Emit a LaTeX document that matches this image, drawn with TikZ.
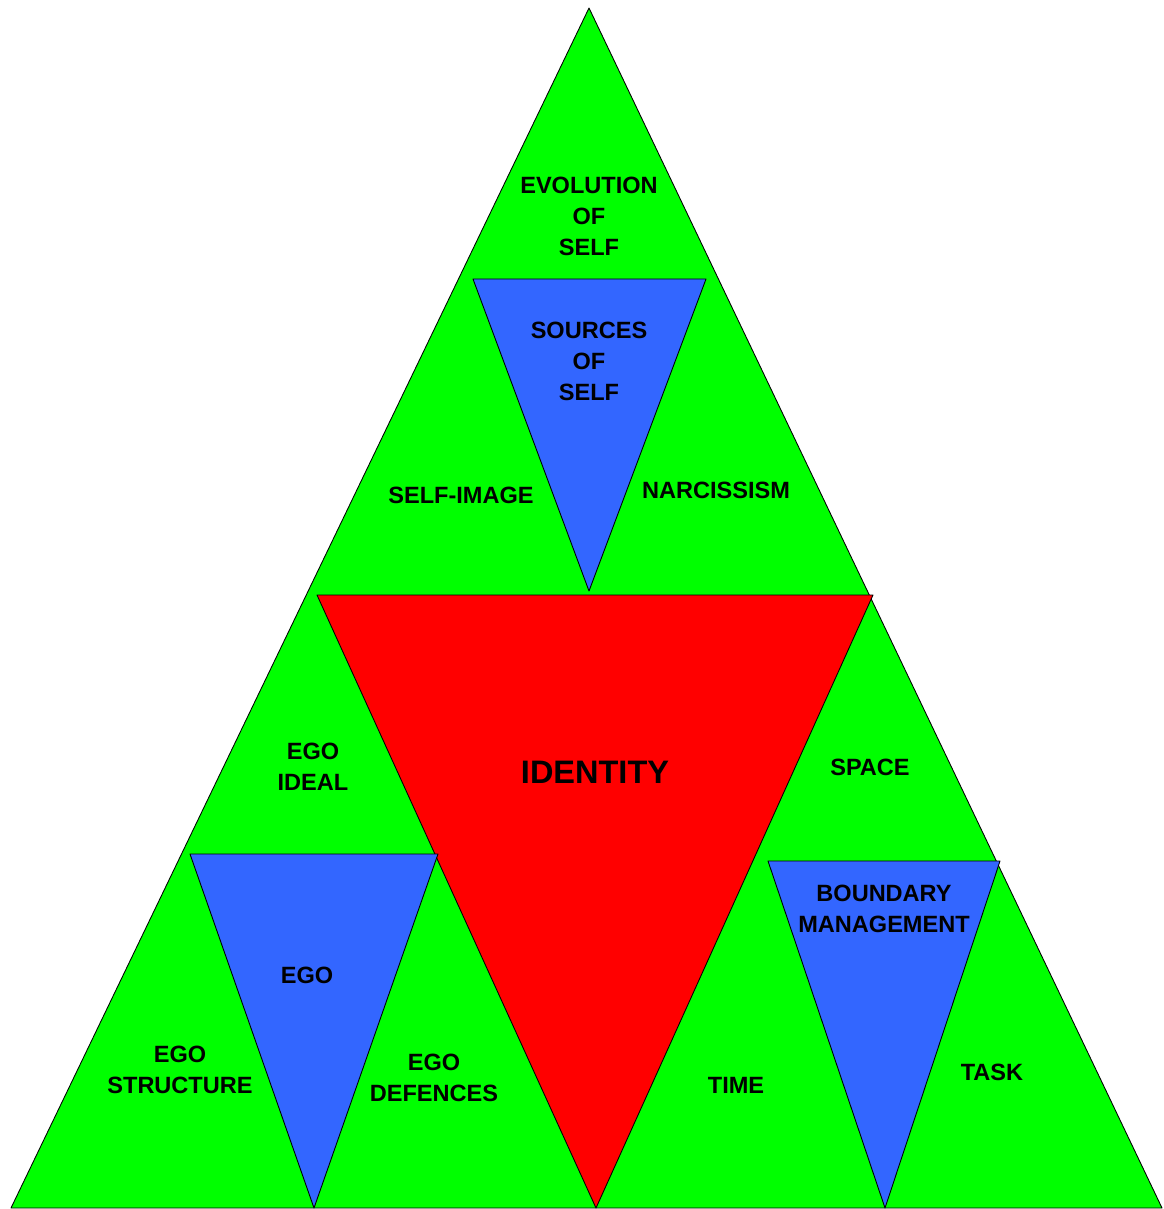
\documentclass[tikz,border=0pt]{standalone}
\usepackage{fontspec}
\setmainfont{Liberation Sans}
\definecolor{tgreen}{HTML}{00FF00}
\definecolor{tblue}{HTML}{3366FF}
\definecolor{tred}{HTML}{FF0000}
\begin{document}
\begin{tikzpicture}[x={(0.02cm,0cm)},y={(0cm,-0.02cm)},line join=round,
  every node/.style={align=center, inner sep=0pt, outer sep=0pt, font=\bfseries\fontsize{13.4}{17.6}\selectfont},
  tri/.style={draw=black, line width=0.5pt}]
\useasboundingbox (0,0) rectangle (1163,1209);
\filldraw[tri,fill=tgreen] (589,8) -- (1162,1208) -- (11,1208) -- cycle;
\filldraw[tri,fill=tred] (317,595) -- (873,595) -- (596,1208) -- cycle;
\filldraw[tri,fill=tblue] (473,279) -- (706,279) -- (589,591) -- cycle;
\filldraw[tri,fill=tblue] (190,854) -- (438,854) -- (314,1208) -- cycle;
\filldraw[tri,fill=tblue] (768,861) -- (1000,861) -- (885,1208) -- cycle;
\node (evolution) at (589,216) {EVOLUTION\\OF\\SELF};
\node (sources) at (589,361) {SOURCES\\OF\\SELF};
\node (selfimage) at (461,495) {SELF-IMAGE};
\node (narcissism) at (716,490) {NARCISSISM};
\node[font=\bfseries\fontsize{18.5}{22}\selectfont] (identity) at (595,772) {IDENTITY};
\node (egoideal) at (313,767) {EGO\\IDEAL};
\node (space) at (870,767) {SPACE};
\node (boundary) at (884,909) {BOUNDARY\\MANAGEMENT};
\node (ego) at (307,975) {EGO};
\node (egostructure) at (180,1070) {EGO\\STRUCTURE};
\node (egodefences) at (434,1078) {EGO\\DEFENCES};
\node (time) at (736,1085) {TIME};
\node (task) at (992,1072) {TASK};
\end{tikzpicture}
\end{document}
